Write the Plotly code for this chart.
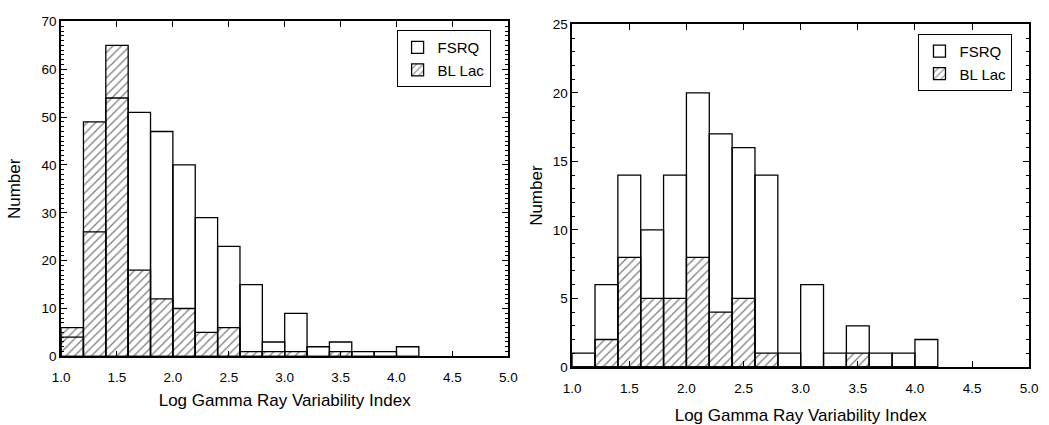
import plotly.graph_objects as go

bin_left = [1.0, 1.2, 1.4, 1.6, 1.8, 2.0, 2.2, 2.4, 2.6, 2.8, 3.0, 3.2, 3.4, 3.6, 3.8, 4.0]
bin_width = 0.2

left_fsrq = [4, 26, 54, 51, 47, 40, 29, 23, 15, 3, 9, 2, 3, 1, 1, 2]
left_bllac = [6, 49, 65, 18, 12, 10, 5, 6, 1, 1, 1, 0, 1, 0, 0, 0]

right_fsrq = [1, 6, 14, 10, 14, 20, 17, 16, 14, 1, 6, 1, 3, 1, 1, 2]
right_bllac = [0, 2, 8, 5, 5, 8, 4, 5, 1, 0, 0, 0, 1, 0, 0, 0]

x_ticks = [1.0, 1.5, 2.0, 2.5, 3.0, 3.5, 4.0, 4.5, 5.0]
x_title = "Log Gamma Ray Variability Index"
y_title = "Number"

centers = [b + bin_width / 2 for b in bin_left]
FONT = "Liberation Sans, Arial, sans-serif"
TICKC = "black"

fig = go.Figure()

def add_panel(fsrq, bllac, xa, ya, legend):
    fig.add_trace(go.Bar(
        x=centers, y=bllac, width=bin_width, name="BL Lac",
        xaxis=xa, yaxis=ya, legend=legend, showlegend=True,
        marker=dict(color="white", line=dict(color="black", width=1.3),
                    pattern=dict(shape="/", fgcolor="black", bgcolor="white",
                                 size=6, solidity=0.22)),
        legendrank=2,
    ))
    fig.add_trace(go.Bar(
        x=centers, y=fsrq, width=bin_width, name="FSRQ",
        xaxis=xa, yaxis=ya, legend=legend, showlegend=True,
        marker=dict(color="rgba(0,0,0,0)", line=dict(color="black", width=1.3)),
        legendrank=1,
    ))

add_panel(left_fsrq, left_bllac, "x", "y", "legend")
add_panel(right_fsrq, right_bllac, "x2", "y2", "legend2")

def xax(standoff):
    return dict(range=[1.0, 5.0], tickvals=x_ticks, ticktext=[f"{v:.1f}" for v in x_ticks],
                ticks="inside", ticklen=6, tickwidth=1.3, tickcolor=TICKC,
                showline=True, linecolor="black", linewidth=1.6, mirror="allticks",
                showgrid=False, zeroline=False, ticklabelstandoff=8,
                tickfont=dict(family=FONT, size=13.5, color="black"),
                title=dict(text=x_title, font=dict(family=FONT, size=17, color="black"),
                           standoff=standoff))

def yax(standoff):
    return dict(ticks="inside", ticklen=6, tickwidth=1.3, tickcolor=TICKC,
                showline=True, linecolor="black", linewidth=1.6, mirror="allticks",
                showgrid=False, zeroline=False,
                tickfont=dict(family=FONT, size=13.5, color="black"),
                minor=dict(ticks="inside", dtick=1, ticklen=3, tickcolor=TICKC,
                           tickwidth=1.1, showgrid=False),
                title=dict(text=y_title, font=dict(family=FONT, size=17, color="black"),
                           standoff=standoff))

fig.update_layout(
    width=1049, height=425, margin=dict(l=0, r=0, t=0, b=0),
    paper_bgcolor="white", plot_bgcolor="white",
    barmode="overlay",
    xaxis=dict(domain=[53/1049, 508/1049], anchor="y", **xax(10)),
    yaxis=dict(domain=[1-363/425, 1-15/425], anchor="x", range=[0, 70], dtick=10, **yax(17)),
    xaxis2=dict(domain=[573/1049, 1038/1049], anchor="y2", **xax(17)),
    yaxis2=dict(domain=[1-374/425, 1-18/425], anchor="x2", range=[0, 25], dtick=5, **yax(6)),
    legend=dict(x=490/1049, xanchor="right", y=1-24/425, yanchor="top",
                bordercolor="black", borderwidth=1, bgcolor="white",
                font=dict(family=FONT, size=15, color="black"),
                tracegroupgap=0, itemwidth=30),
    legend2=dict(x=1021/1049, xanchor="right", y=1-28/425, yanchor="top",
                 bordercolor="black", borderwidth=1, bgcolor="white",
                 font=dict(family=FONT, size=15, color="black"),
                 tracegroupgap=0, itemwidth=30),
)

fig.write_html("out.html")
